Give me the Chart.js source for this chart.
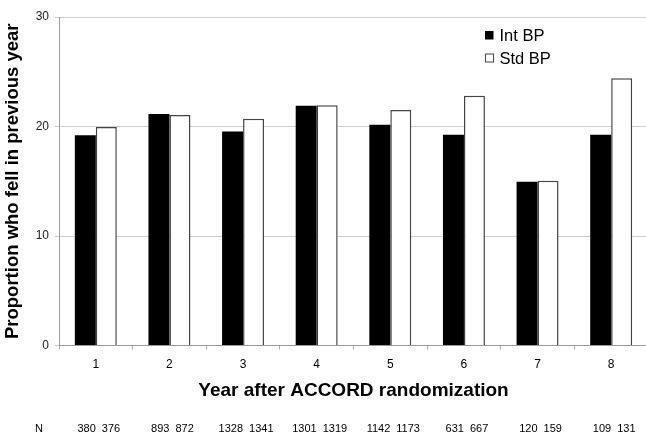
<!DOCTYPE html>
<html>
<head>
<meta charset="utf-8">
<script src="https://cdn.jsdelivr.net/npm/chart.js@4"></script>
<style>
  html, body { margin: 0; padding: 0; background: #fff; overflow: hidden; }
  canvas { display: block; }
</style>
</head>
<body>
<canvas id="c" width="650" height="433"></canvas>
<script>
const categories = ['1', '2', '3', '4', '5', '6', '7', '8'];
const seriesNames = ['Int BP', 'Std BP'];
const intBP = [19.2, 21.15, 19.55, 21.9, 20.15, 19.25, 14.95, 19.25];
const stdBP = [19.95, 21.05, 20.7, 21.95, 21.5, 22.8, 15.05, 24.4];
const nInt = [380, 893, 1328, 1301, 1142, 631, 120, 109];
const nStd = [376, 872, 1341, 1319, 1173, 667, 159, 131];
const yTicks = [0, 10, 20, 30];
const nLabel = 'N';
const xTitle = 'Year after ACCORD randomization';
const yTitle = 'Proportion who fell in previous year';

const FONT = 'Arial, "Liberation Sans", sans-serif';

const extras = {
  id: 'extras',
  afterDraw(chart) {
    const ctx = chart.ctx;
    const xs = chart.scales.x;
    ctx.save();
    // N row
    ctx.fillStyle = '#000';
    ctx.font = '11px ' + FONT;
    ctx.textBaseline = 'alphabetic';
    ctx.textAlign = 'center';
    ctx.fillText(nLabel, 39, 431.5);
    categories.forEach((c, i) => {
      const cx = xs.getPixelForValue(i) + 3;
      ctx.textAlign = 'right';
      ctx.fillText(String(nInt[i]), cx - 3, 431.5);
      ctx.textAlign = 'left';
      ctx.fillText(String(nStd[i]), cx + 3, 431.5);
    });
    // Legend
    const ds = chart.data.datasets;
    const lx = 485, rows = [31, 53.5];
    ds.forEach((d, k) => {
      const y = rows[k];
      ctx.fillStyle = d.backgroundColor;
      ctx.fillRect(lx, y, 8.5, 8.5);
      if (d.backgroundColor !== '#000') {
        ctx.strokeStyle = d.borderColor;
        ctx.lineWidth = 1;
        ctx.strokeRect(lx + 0.5, y + 0.5, 8, 8);
      }
      ctx.fillStyle = '#000';
      ctx.font = '16.5px ' + FONT;
      ctx.textAlign = 'left';
      ctx.textBaseline = 'alphabetic';
      ctx.fillText(d.label, 499.5, y + 10);
    });
    ctx.restore();
  }
};

new Chart(document.getElementById('c'), {
  type: 'bar',
  data: {
    labels: categories,
    datasets: [
      { label: seriesNames[0], data: intBP, backgroundColor: '#000', borderColor: '#000', borderWidth: 0 },
      { label: seriesNames[1], data: stdBP, backgroundColor: '#fff', borderColor: '#444', borderWidth: 1.5 }
    ]
  },
  options: {
    responsive: false,
    animation: false,
    devicePixelRatio: 1,
    layout: { padding: { left: 0, right: 2, top: 17, bottom: 30.5 } },
    datasets: { bar: { categoryPercentage: 0.57, barPercentage: 1.0 } },
    plugins: { legend: { display: false }, tooltip: { enabled: false } },
    scales: {
      x: {
        offset: true,
        grid: { offset: true, drawOnChartArea: false, drawTicks: true, tickLength: 4, color: '#aaa' },
        border: { color: '#999', width: 1 },
        ticks: { color: '#000', font: { family: FONT, size: 12 }, padding: 8 },
        title: { display: true, text: xTitle, color: '#000', font: { family: FONT, size: 19, weight: 'bold' }, padding: { top: 4, bottom: 0 } },
        afterFit(s) { s.height = 57; }
      },
      y: {
        min: 0, max: 30,
        afterBuildTicks(s) { s.ticks = yTicks.map(v => ({ value: v })); },
        grid: { color: '#cccccc', tickLength: 4, drawTicks: true },
        border: { color: '#999', width: 1 },
        ticks: { color: '#222', font: { family: FONT, size: 12 }, padding: 6 },
        title: { display: true, text: yTitle, color: '#000', font: { family: FONT, size: 18.5, weight: 'bold' }, padding: { top: 2, bottom: 0 } },
        afterFit(s) { s.width = 59; }
      }
    }
  },
  plugins: [extras]
});
</script>
</body>
</html>
